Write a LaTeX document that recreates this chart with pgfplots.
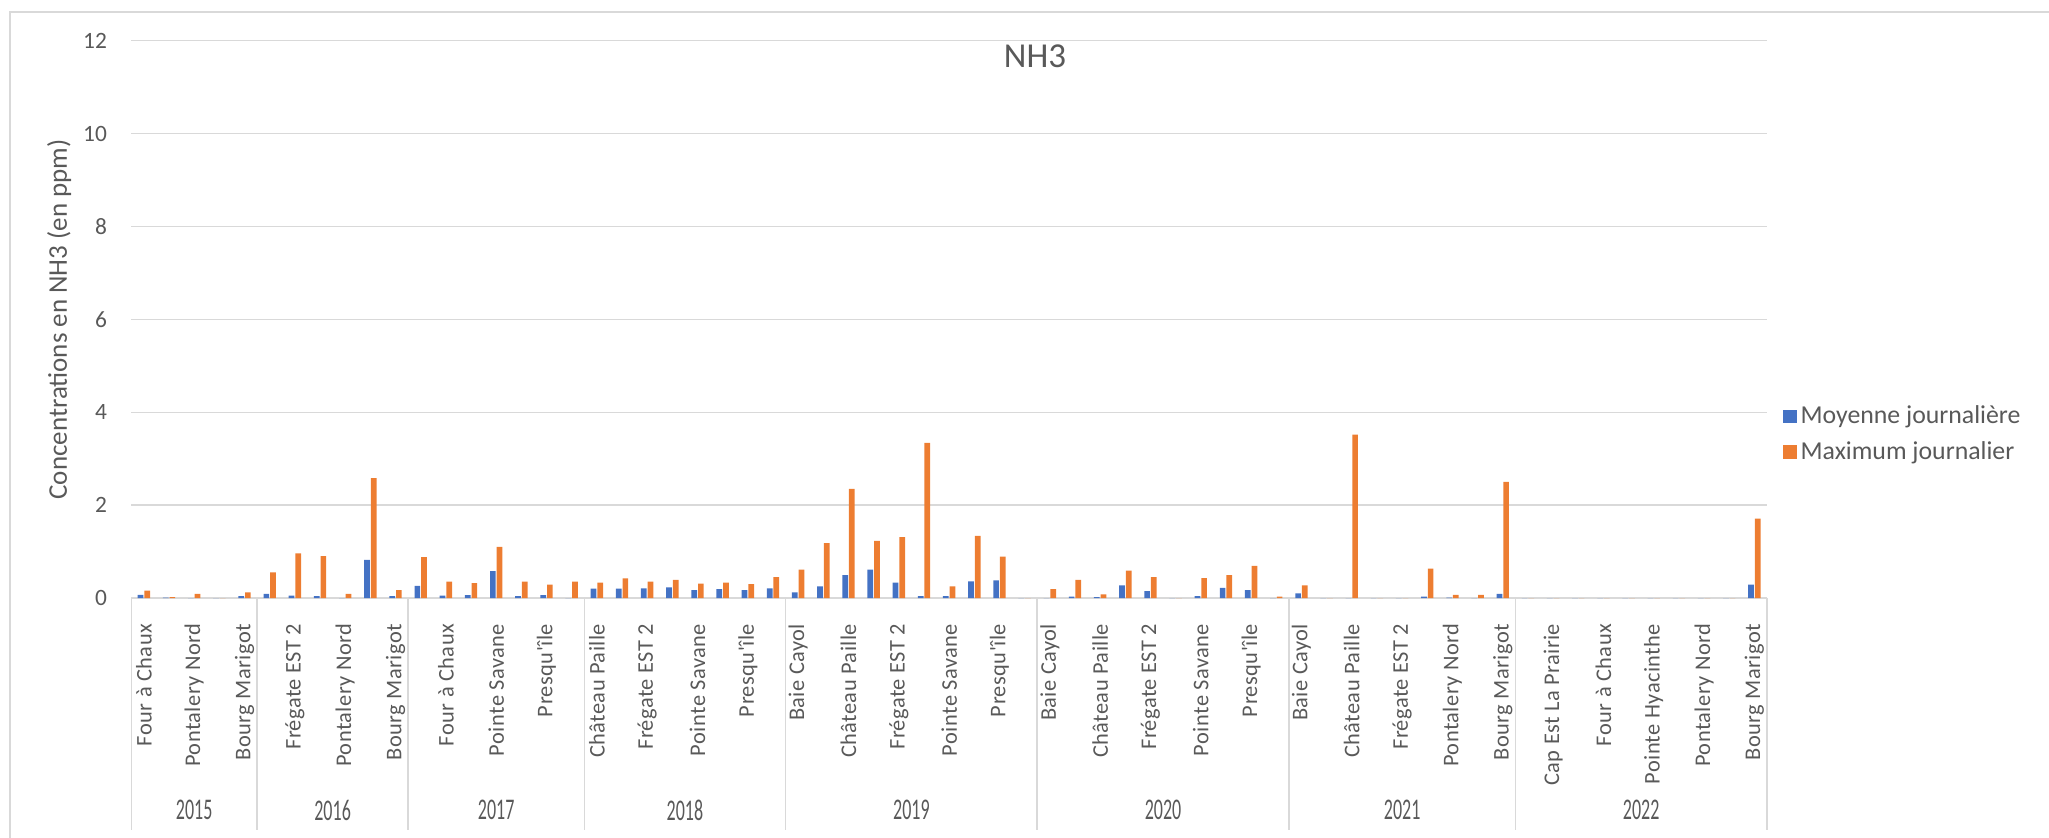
\documentclass[border=0pt]{standalone}
\usepackage{pgfplots}
\usepackage{pgfplotstable}
\pgfplotsset{compat=1.18}
\usepackage{fontspec}
\setmainfont{Carlito}
\newfontfamily\catfont[LetterSpace=2]{Carlito}
\definecolor{cblue}{HTML}{4472C4}
\definecolor{corange}{HTML}{ED7D31}
\definecolor{ctext}{HTML}{595959}
\definecolor{cgrid}{HTML}{D9D9D9}

\pgfplotstableread{
k mean max
0 0.07 0.16
1 0.01 0.02
2 0 0.09
3 0 0
4 0.04 0.12
5 0.09 0.55
6 0.05 0.96
7 0.04 0.90
8 0 0.09
9 0.82 2.58
10 0.04 0.17
11 0.26 0.88
12 0.05 0.35
13 0.06 0.32
14 0.58 1.10
15 0.04 0.35
16 0.06 0.29
17 0 0.35
18 0.20 0.33
19 0.20 0.42
20 0.21 0.35
21 0.23 0.39
22 0.17 0.31
23 0.19 0.33
24 0.17 0.30
25 0.21 0.45
26 0.12 0.61
27 0.25 1.18
28 0.49 2.35
29 0.61 1.23
30 0.33 1.31
31 0.04 3.34
32 0.04 0.25
33 0.36 1.34
34 0.38 0.89
35 0 0
36 0 0.19
37 0.03 0.39
38 0.02 0.08
39 0.27 0.59
40 0.15 0.45
41 0 0
42 0.04 0.43
43 0.22 0.49
44 0.17 0.69
45 0 0.03
46 0.10 0.27
47 0 0
48 0 3.52
49 0 0
50 0 0
51 0.03 0.63
52 0.01 0.07
53 0 0.07
54 0.09 2.50
55 0 0
56 0 0
57 0 0
58 0 0
59 0 0
60 0 0
61 0 0
62 0 0
63 0 0
64 0.29 1.71
}\datatable

\begin{document}
\begin{tikzpicture}
\useasboundingbox (0,0) rectangle (1024.5pt,-419pt);
\draw[cgrid, line width=0.75pt] (5pt,-419pt) -- (5pt,-5.9pt) -- (1024.5pt,-5.9pt);
\begin{axis}[
  at={(65.65pt,-299pt)}, anchor=south west,
  scale only axis, width=817.85pt, height=278.6pt,
  xmin=-0.5, xmax=64.5, ymin=0, ymax=12,
  ytick={0,2,...,12},
  xtick={0,2,...,64},
  xticklabels={Four à Chaux,Pontalery Nord,Bourg Marigot,Frégate EST 2,Pontalery Nord,Bourg Marigot,Four à Chaux,Pointe Savane,Presqu'île,Château Paille,Frégate EST 2,Pointe Savane,Presqu'île,Baie Cayol,Château Paille,Frégate EST 2,Pointe Savane,Presqu'île,Baie Cayol,Château Paille,Frégate EST 2,Pointe Savane,Presqu'île,Baie Cayol,Château Paille,Frégate EST 2,Pontalery Nord,Bourg Marigot,Cap Est La Prairie,Four à Chaux,Pointe Hyacinthe,Pontalery Nord,Bourg Marigot},
  ymajorgrids, grid style={cgrid, line width=0.7pt},
  axis line style={draw=none},
  tick style={draw=none},
  clip=false,
  ybar, bar width=2.85pt,
  legend image code/.code={\fill[#1] (0pt,-3.3pt) rectangle (6.6pt,3.3pt);},
  every axis plot post/.append style={legend image code/.code={\fill[#1] (0pt,-3.3pt) rectangle (6.6pt,3.3pt);}},
  /pgf/number format/assume math mode=true,
  yticklabel style={font=\fontsize{11.7}{14}\selectfont, text=ctext, anchor=east, inner sep=0pt, xshift=-12pt},
  xticklabel style={font=\catfont\fontsize{11.2}{13}\selectfont, text=ctext, inner sep=0pt, yshift=-8.5pt, rotate=90, anchor=east},
  legend style={draw=none, fill=none, at={(rel axis cs:1,0.294)}, anchor=west, xshift=8pt,
    font=\fontsize{12.9}{15}\selectfont, text=ctext, row sep=3.3pt, inner sep=0pt,
    nodes={inner sep=2pt}},
  legend cell align=left,
]
\addplot[fill=cblue, draw=none, bar shift=-1.67pt] table[x=k, y=mean] {\datatable};
\addlegendentry{Moyenne journalière}
\addplot[fill=corange, draw=none, bar shift=1.67pt] table[x=k, y=max] {\datatable};
\addlegendentry{Maximum journalier}
\pgfplotsinvokeforeach{-0.5,4.5,10.5,17.5,25.5,35.5,45.5,54.5,64.5}{
  \draw[cgrid, line width=0.75pt] (axis cs:#1,0) -- (axis cs:#1,-5);
}
\node[text=ctext, font=\fontsize{15}{17}\selectfont] at (axis cs:2,-4.57) {\scalebox{0.6}[1]{2015}};
\node[text=ctext, font=\fontsize{15}{17}\selectfont] at (axis cs:7.5,-4.57) {\scalebox{0.6}[1]{2016}};
\node[text=ctext, font=\fontsize{15}{17}\selectfont] at (axis cs:14,-4.57) {\scalebox{0.6}[1]{2017}};
\node[text=ctext, font=\fontsize{15}{17}\selectfont] at (axis cs:21.5,-4.57) {\scalebox{0.6}[1]{2018}};
\node[text=ctext, font=\fontsize{15}{17}\selectfont] at (axis cs:30.5,-4.57) {\scalebox{0.6}[1]{2019}};
\node[text=ctext, font=\fontsize{15}{17}\selectfont] at (axis cs:40.5,-4.57) {\scalebox{0.6}[1]{2020}};
\node[text=ctext, font=\fontsize{15}{17}\selectfont] at (axis cs:50,-4.57) {\scalebox{0.6}[1]{2021}};
\node[text=ctext, font=\fontsize{15}{17}\selectfont] at (axis cs:59.5,-4.57) {\scalebox{0.6}[1]{2022}};
\node[text=ctext, font=\fontsize{13.5}{16}\selectfont, rotate=90] at ([xshift=-36pt]rel axis cs:0,0.5) {Concentrations en NH3 (en ppm)};
\node[text=ctext, font=\fontsize{17.5}{20}\selectfont] at ([yshift=-7.6pt]rel axis cs:0.5525,1) {NH3};
\end{axis}
\end{tikzpicture}
\end{document}
